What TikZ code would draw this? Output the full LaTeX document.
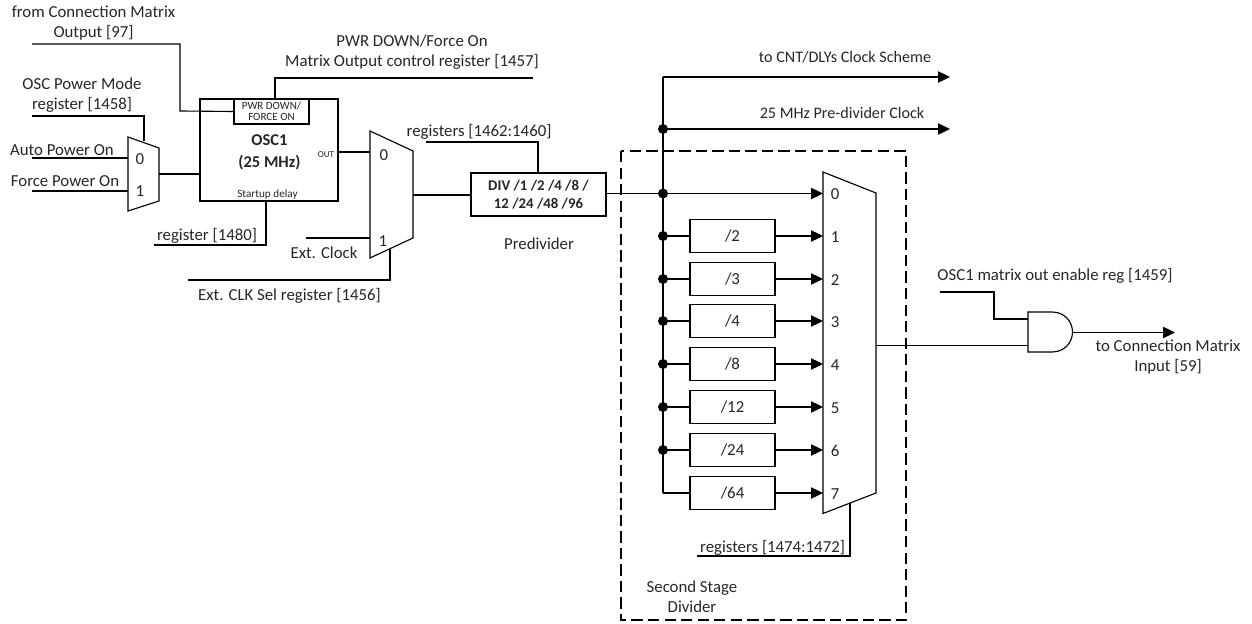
\documentclass[tikz,border=0pt]{standalone}
\usepackage{fontspec}
\setmainfont{Carlito}
\usetikzlibrary{arrows.meta}
\tikzset{
  x=0.75pt,y=-0.75pt,
  wire/.style={line width=0.85pt,line join=miter},
  thick wire/.style={line width=1.35pt},
  arrowwire/.style={line width=0.85pt,-{Triangle[length=9pt,width=8.5pt]}},
  block/.style={draw,line width=0.85pt,inner sep=0pt,fill=white},
  lbl/.style={font=\fontsize{12.6}{15}\selectfont,inner sep=0pt,align=center,text=black!85},
  lblb/.style={font=\fontsize{12.1}{15}\selectfont,inner sep=0pt,align=center,text=black!85},
  dotn/.style={circle,fill=black,inner sep=0pt,minimum size=7.5pt},
  divbox/.style={block,minimum width=63.75pt,minimum height=25pt,font=\fontsize{12.6}{14}\selectfont,text=black!85},
  muxshape/.style={draw,line width=0.85pt,line join=miter,fill=white},
  dashbox/.style={draw,line width=1.9pt,dash pattern=on 8.5pt off 3.9pt},
}
\begin{document}
\begin{tikzpicture}
\useasboundingbox (0,0) rectangle (1252,624);
% coordinates
\coordinate (cmS) at (32,44);
\coordinate (pmS) at (32,116);
\coordinate (apS) at (32,158);
\coordinate (fpS) at (32,191);
\coordinate (pdE) at (533,78);
\coordinate (rsS) at (154,245);
\coordinate (ecS) at (306,238);
\coordinate (esS) at (188,280);
\coordinate (rpS) at (426,142);
\coordinate (r2S) at (697,556);
\coordinate (topE) at (950,77);
\coordinate (midE) at (950,129);
\coordinate (enS) at (940,292);
\coordinate (outE) at (1175,332.5);
% dashed box
\draw[dashbox] (621,151) rectangle (906,620);
% boxes
\node[block,minimum width=103.5pt,minimum height=76.5pt] (osc) at (269,150) {};
\node[block,minimum width=56.25pt,minimum height=18.75pt,font=\fontsize{8.3}{8.3}\selectfont,align=center,text=black!85] (pwr) at (271.5,111.5) {PWR DOWN/\\FORCE ON};
\node[lbl,font=\fontsize{12.4}{16.5}\selectfont\bfseries] (osct) at (269.5,152) {OSC1\\(25 MHz)};
\node[lbl,font=\fontsize{6.8}{8}\selectfont] (oscout) at (326,155) {OUT};
\node[lbl,font=\fontsize{8.4}{10}\selectfont] (startup) at (267.5,194.5) {Startup delay};
% muxes
\draw[muxshape] (128,137) -- (159,148) -- (159,201) -- (128,211) -- cycle;
\draw[muxshape] (370,131) -- (413,151) -- (413,238) -- (370,258) -- cycle;
\draw[muxshape] (823,172) -- (876,193) -- (876,493) -- (823,513.5) -- cycle;
\node[lbl] (m1a) at (140,159) {0};
\node[lbl] (m1b) at (140,191.5) {1};
\node[lbl] (m2a) at (384,155) {0};
\node[lbl] (m2b) at (383,241) {1};
% div
\node[block,minimum width=101.25pt,minimum height=32.25pt,font=\fontsize{11.1}{13.5}\selectfont\bfseries,align=center,text=black!85] (div) at (538.5,194.5) {DIV /1 /2 /4 /8 /\\12 /24 /48 /96};
% second stage dividers
\foreach \n/\y/\t in {a/236/2,b/279/3,c/321/4,d/364/8,e/407/12,f/450/24,g/493/64}{
  \node[divbox] (d\n) at (732.5,\y) {/\t};
}
\foreach \i/\y in {0/193.5,1/236,2/279,3/321,4/364,5/407,6/450,7/493}{
  \node[lbl] (ml\i) at (835,\y+1) {\i};
}
% and gate
\draw[muxshape] (1028,312) -- (1052,312) .. controls (1064,312) and (1072.5,321) .. (1072.5,332) .. controls (1072.5,343) and (1064,352) .. (1052,352) -- (1028,352) -- cycle;
\coordinate (andOut) at (1072.5,332.5);
\coordinate (andA) at (1028,319);
\coordinate (andB) at (1028,346);
% wires
\draw[wire] (cmS) -- (180,44) -- (180,111) -- (pwr.west);
\draw[wire] (275,99) -- (275,78) -- (pdE);
\draw[wire] (pmS) -- (144,116) -- (144,141);
\draw[wire] (apS) -- (128,158);
\draw[wire] (fpS) -- (128,191);
\draw[thick wire] (159,174) -- (200,174);
\draw[wire] (rsS) -- (266,245) -- (266,201);
\draw[thick wire] (338,152) -- (370,152);
\draw[wire] (ecS) -- (370,238);
\draw[wire] (esS) -- (390,280) -- (390,249);
\draw[thick wire] (413,195) -- (471,195);
\draw[wire] (rpS) -- (538,142) -- (538,173);
\draw[wire,-{Triangle[length=9pt,width=8.5pt]}] (606,193.5) -- (823,193.5);
\draw[wire] (663,493) -- (663,77);
\draw[arrowwire] (663,77) -- (topE);
\draw[arrowwire] (663,129) -- (midE);
\node[dotn] (j0) at (663,129) {};
\node[dotn] (j1) at (663,193.5) {};
\foreach \n/\y/\k in {a/236/2,b/279/3,c/321/4,d/364/5,e/407/6,f/450/7}{
  \node[dotn] (j\k) at (663,\y) {};
}
\foreach \n in {a,b,c,d,e,f,g}{
  \draw[wire] (663,0 |- d\n.west) -- (d\n.west);
  \draw[arrowwire] (d\n.east) -- (823,0 |- d\n.east);
}
\draw[wire] (r2S) -- (850,556) -- (850,503);
\draw[wire] (876,345.5) -- (1028,345.5);
\draw[wire] (enS) -- (994,292) -- (994,319) -- (andA);
\draw[arrowwire] (andOut) -- (outE);
% labels
\node[lbl] (t1) at (93.5,23.5) {from Connection Matrix\\Output [97]};
\node[lbl] (t2) at (82,95.5) {OSC Power Mode\\register [1458]};
\node[lbl] (t3) at (62,150) {Auto Power On};
\node[lbl] (t4) at (65,181) {Force Power On};
\node[lbl] (t5) at (412,52) {PWR DOWN/Force On\\Matrix Output control register [1457]};
\node[lbl] (t6) at (207,236) {register [1480]};
\node[lbl] (t7) at (324,253) {Ext. Clock};
\node[lbl] (t8) at (289.5,296) {Ext. CLK Sel register [1456]};
\node[lbl] (t9) at (479,132) {registers [1462:1460]};
\node[lbl] (t10) at (539,244) {Predivider};
\node[lblb] (t11) at (845,57) {to CNT/DLYs Clock Scheme};
\node[lblb] (t12) at (842,113) {25 MHz Pre-divider Clock};
\node[lbl] (t13) at (772.5,548) {registers [1474:1472]};
\node[lbl] (t14) at (692,597) {Second Stage\\Divider};
\node[lbl] (t15) at (1055,276) {OSC1 matrix out enable reg [1459]};
\node[lbl] (t16) at (1168,357.5) {to Connection Matrix\\Input [59]};
\end{tikzpicture}
\end{document}
